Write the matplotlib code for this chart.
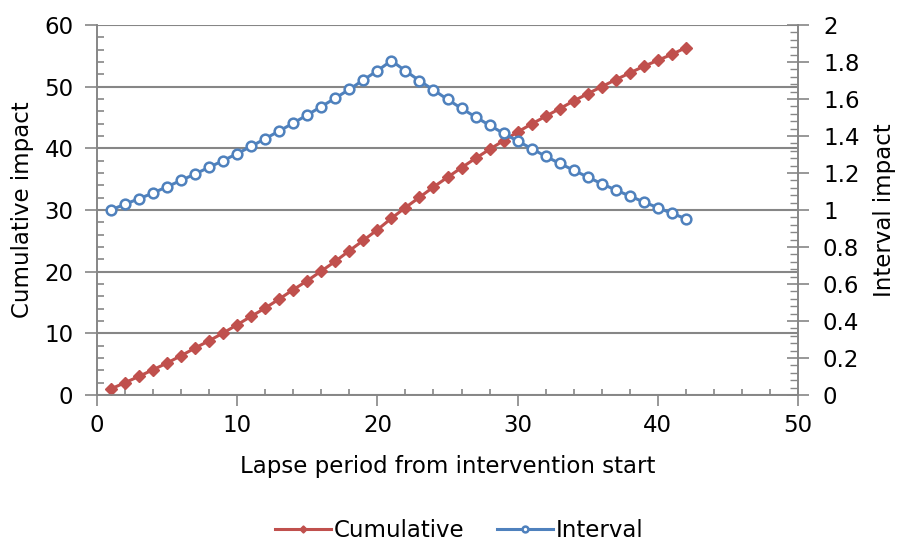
import matplotlib.pyplot as plt
from matplotlib.ticker import MultipleLocator

# Дані
periods = list(range(1, 43))
cumulative = [1.0, 2.0, 3.03, 4.1, 5.19, 6.38, 7.62, 8.81, 10.05, 11.4,
              12.76, 14.1, 15.57, 17.08, 18.54, 20.1, 21.68, 23.4, 25.08, 26.8,
              28.65, 30.4, 32.05, 33.73, 35.3, 36.86, 38.38, 39.84, 41.24, 42.65,
              43.95, 45.19, 46.43, 47.68, 48.86, 50.0, 51.13, 52.22, 53.3, 54.27,
              55.24, 56.32]
interval = [1.0, 1.032, 1.061, 1.092, 1.126, 1.16, 1.195, 1.231, 1.267, 1.305,
            1.344, 1.386, 1.427, 1.47, 1.514, 1.559, 1.605, 1.652, 1.703, 1.753,
            1.807, 1.752, 1.699, 1.649, 1.598, 1.549, 1.503, 1.458, 1.414, 1.373,
            1.332, 1.29, 1.252, 1.215, 1.178, 1.142, 1.108, 1.076, 1.043, 1.013,
            0.982, 0.953]
right_ticks = [0, 0.2, 0.4, 0.6, 0.8, 1, 1.2, 1.4, 1.6, 1.8, 2]
right_labels = ["0", "0.2", "0.4", "0.6", "0.8", "1", "1.2", "1.4", "1.6", "1.8", "2"]

RED = "#C0504D"
BLUE = "#4F81BD"
GRAY = "#868686"
FS = 16.5

plt.rcParams['font.family'] = ['DejaVu Sans']

fig = plt.figure(figsize=(8.99, 5.42), dpi=100)
ax = fig.add_axes([97 / 899, (542 - 395) / 542, 701 / 899, 370 / 542])
ax2 = ax.twinx()

# Межі та поділки
ax.set_xlim(0, 50)
ax.set_ylim(0, 60)
ax2.set_ylim(0, 2)
ax.xaxis.set_major_locator(MultipleLocator(10))
ax.xaxis.set_minor_locator(MultipleLocator(2))
ax.yaxis.set_major_locator(MultipleLocator(10))
ax.yaxis.set_minor_locator(MultipleLocator(2))
ax2.set_yticks(right_ticks)
ax2.set_yticklabels(right_labels)
ax2.yaxis.set_minor_locator(MultipleLocator(0.04))

ax.grid(axis='y', which='major', color=GRAY, linewidth=1.5)
ax.set_axisbelow(True)

for a in (ax, ax2):
    a.spines['top'].set_visible(False)
    for side in ('left', 'bottom', 'right'):
        a.spines[side].set_color(GRAY)
        a.spines[side].set_linewidth(1.2)

ax.tick_params(axis='y', which='major', direction='out', length=9, width=1.2, color=GRAY, labelsize=FS, pad=8)
ax.tick_params(axis='y', which='minor', direction='in', length=5, width=1.2, color=GRAY)
ax.tick_params(axis='x', which='major', direction='out', length=8, width=1.2, color=GRAY, labelsize=FS, pad=6)
ax.tick_params(axis='x', which='minor', direction='in', length=4, width=1.2, color=GRAY)
ax2.tick_params(axis='y', which='major', direction='inout', length=16, width=1.2, color=GRAY, labelsize=FS, pad=10)
ax2.tick_params(axis='y', which='minor', direction='in', length=6, width=1, color=GRAY)

# Лінії
l1, = ax.plot(periods, cumulative, color=RED, linewidth=2.2, marker='D', markersize=6,
              markerfacecolor=RED, markeredgecolor=RED, label="Cumulative", zorder=3)
l2, = ax2.plot(periods, interval, color=BLUE, linewidth=2.2, marker='o', markersize=7,
               markerfacecolor='white', markeredgecolor=BLUE, markeredgewidth=1.8,
               label="Interval", zorder=3)

ax.set_xlabel("Lapse period from intervention start", fontsize=FS)
ax.set_ylabel("Cumulative impact", fontsize=FS)
ax2.set_ylabel("Interval impact", fontsize=FS)
ax.xaxis.set_label_coords(0.5, (395 - 455) / 370)
ax.yaxis.set_label_coords((34 - 97) / 701, 0.5)
ax2.yaxis.set_label_coords((873 - 97) / 701, 0.5)

fig.legend([l1, l2], ["Cumulative", "Interval"], loc='center', bbox_to_anchor=(0.511, 0.022),
           ncol=2, frameon=False, fontsize=FS, handlelength=2.45, columnspacing=1.4,
           handletextpad=0.12, markerscale=0.6)

fig.savefig("out.png", dpi=100)
